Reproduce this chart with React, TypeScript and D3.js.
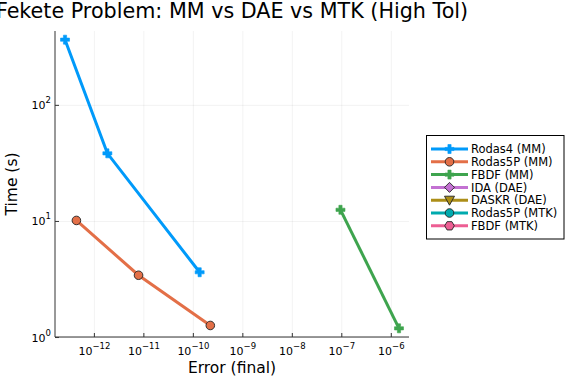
import React from "react";
import * as d3 from "d3";

const seriesNames = ["Rodas4 (MM)", "Rodas5P (MM)", "FBDF (MM)", "IDA (DAE)", "DASKR (DAE)", "Rodas5P (MTK)", "FBDF (MTK)"];
const seriesColors = ["#009AFA", "#E36F47", "#3EA44E", "#C371D2", "#AC8E18", "#00AAAE", "#ED5E93"];
const seriesMarkers = ["cross", "circle", "cross", "diamond", "dtriangle", "circle", "hexagon"];

const rodas4Err = [2.55e-13, 1.83e-12, 1.34e-10];
const rodas4Time = [368, 38.6, 3.65];
const rodas5pErr = [4.33e-13, 7.8e-12, 2.2e-10];
const rodas5pTime = [10.2, 3.44, 1.27];
const fbdfErr = [9.4e-8, 1.43e-6];
const fbdfTime = [12.6, 1.2];

const seriesErr = [rodas4Err, rodas5pErr, fbdfErr, [], [], [], []];
const seriesTime = [rodas4Time, rodas5pTime, fbdfTime, [], [], [], []];

const xTickExps = [-12, -11, -10, -9, -8, -7, -6];
const yTickExps = [0, 1, 2];

const W = 576, H = 384;
const ml = 55, mr = 409, mt = 31, mb = 337;

function Marker({ kind, x, y, color }: { kind: string; x: number; y: number; color: string }) {
  if (kind === "cross") {
    const a = 4.5, t = 1.6;
    const d = `M${x - t},${y - a}H${x + t}V${y - t}H${x + a}V${y + t}H${x + t}V${y + a}H${x - t}V${y + t}H${x - a}V${y - t}H${x - t}Z`;
    return <path d={d} fill={color} stroke={color} strokeWidth={0.6} />;
  }
  if (kind === "circle") return <circle cx={x} cy={y} r={4.3} fill={color} stroke="#222" strokeWidth={0.9} />;
  if (kind === "diamond") {
    const a = 5;
    return <path d={`M${x},${y - a}L${x + a},${y}L${x},${y + a}L${x - a},${y}Z`} fill={color} stroke="#222" strokeWidth={0.9} />;
  }
  if (kind === "dtriangle") {
    const a = 5;
    return <path d={`M${x - a},${y - a * 0.8}L${x + a},${y - a * 0.8}L${x},${y + a}Z`} fill={color} stroke="#222" strokeWidth={0.9} />;
  }
  const pts = d3.range(6).map((i) => {
    const ang = (Math.PI / 3) * i;
    return `${x + 4.8 * Math.cos(ang)},${y + 4.8 * Math.sin(ang)}`;
  });
  return <polygon points={pts.join(" ")} fill={color} stroke="#222" strokeWidth={0.9} />;
}

export default function App() {
  const allErr = seriesErr.flat();
  const allTime = seriesTime.flat();
  const lx = d3.extent(allErr.map(Math.log10)) as [number, number];
  const ly = d3.extent(allTime.map(Math.log10)) as [number, number];
  const px = (lx[1] - lx[0]) * 0.03;
  const py = (ly[1] - ly[0]) * 0.03;
  const x = d3.scaleLog().domain([10 ** (lx[0] - px), 10 ** (lx[1] + px)]).range([ml, mr]);
  const y = d3.scaleLog().domain([10 ** (ly[0] - py), 10 ** (ly[1] + py)]).range([mb, mt]);
  const line = d3.line<[number, number]>().x((d) => x(d[0])).y((d) => y(d[1]));
  const font = "DejaVu Sans, sans-serif";

  const legX = 426.5, legY = 135.5, legW = 137.5, legH = 103.5;
  const rowH = 12.8;

  return (
    <svg width={W} height={H} style={{ position: "absolute", left: 0, top: 0 }} fontFamily={font}>
      <rect x={0} y={0} width={W} height={H} fill="white" />
      {xTickExps.map((e) => (
        <line key={"gx" + e} x1={x(10 ** e)} x2={x(10 ** e)} y1={mt} y2={mb} stroke="#000" strokeOpacity={0.1} strokeWidth={0.5} />
      ))}
      {yTickExps.map((e) => (
        <line key={"gy" + e} x1={ml} x2={mr} y1={y(10 ** e)} y2={y(10 ** e)} stroke="#000" strokeOpacity={0.1} strokeWidth={0.5} />
      ))}
      <line x1={ml} x2={mr} y1={mb} y2={mb} stroke="#333" strokeWidth={1} />
      <line x1={ml} x2={ml} y1={mt} y2={mb} stroke="#333" strokeWidth={1} />
      {xTickExps.map((e) => (
        <g key={"tx" + e}>
          <line x1={x(10 ** e)} x2={x(10 ** e)} y1={mb} y2={mb - 4} stroke="#333" strokeWidth={1} />
          <text x={x(10 ** e)} y={355} textAnchor="middle" fontSize={11} fill="#000">
            <tspan>10</tspan>
            <tspan dy={-6} fontSize={8.5}>{"\u2212" + Math.abs(e)}</tspan>
          </text>
        </g>
      ))}
      {yTickExps.map((e) => (
        <g key={"ty" + e}>
          <line x1={ml} x2={ml + 4} y1={y(10 ** e)} y2={y(10 ** e)} stroke="#333" strokeWidth={1} />
          <text x={51} y={y(10 ** e) + 4} textAnchor="end" fontSize={11} fill="#000">
            <tspan>10</tspan>
            <tspan dy={-6} fontSize={8.5}>{String(e)}</tspan>
          </text>
        </g>
      ))}
      {seriesNames.map((n, i) => {
        const pts = seriesErr[i].map((v, j) => [v, seriesTime[i][j]] as [number, number]);
        if (!pts.length) return null;
        return (
          <g key={n}>
            <path d={line(pts) || ""} fill="none" stroke={seriesColors[i]} strokeWidth={3} />
            {pts.map((p, j) => (
              <Marker key={j} kind={seriesMarkers[i]} x={x(p[0])} y={y(p[1])} color={seriesColors[i]} />
            ))}
          </g>
        );
      })}
      <text x={(ml + mr) / 2} y={18} textAnchor="middle" fontSize={20.7} fill="#000">
        Fekete Problem: MM vs DAE vs MTK (High Tol)
      </text>
      <text x={(ml + mr) / 2} y={373} textAnchor="middle" fontSize={15.5} fill="#000">
        Error (final)
      </text>
      <text transform={`translate(16.5,${(mt + mb) / 2}) rotate(-90)`} textAnchor="middle" fontSize={15.5} fill="#000">
        Time (s)
      </text>
      <rect x={legX} y={legY} width={legW} height={legH} fill="white" stroke="#000" strokeWidth={1} />
      {seriesNames.map((n, i) => {
        const cy = 149 + i * rowH;
        return (
          <g key={"leg" + n}>
            <line x1={431} x2={468} y1={cy} y2={cy} stroke={seriesColors[i]} strokeWidth={3} />
            <Marker kind={seriesMarkers[i]} x={449.5} y={cy} color={seriesColors[i]} />
            <text x={471} y={cy + 4.2} fontSize={11.5} fill="#000">{n}</text>
          </g>
        );
      })}
    </svg>
  );
}
